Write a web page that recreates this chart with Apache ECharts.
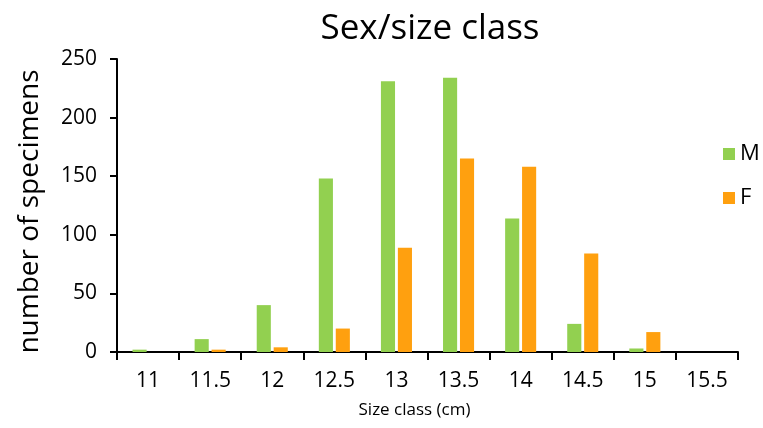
<!DOCTYPE html>
<html>
<head>
<meta charset="utf-8">
<script src="https://cdn.jsdelivr.net/npm/echarts@6/dist/echarts.min.js"></script>
<style>html,body{margin:0;padding:0;background:#fff}#c{width:763px;height:428px}</style>
</head>
<body>
<div id="c"></div>
<script>
var categories = ['11','11.5','12','12.5','13','13.5','14','14.5','15','15.5'];
var maleValues = [2, 11, 40, 148, 231, 234, 114, 24, 3, 0];
var femaleValues = [0, 2, 4, 20, 89, 165, 158, 84, 17, 0];
var yTicks = [0, 50, 100, 150, 200, 250];

var font = '"Open Sans", "Noto Sans", sans-serif';
var chart = echarts.init(document.getElementById('c'));
chart.setOption({
  animation: false,
  backgroundColor: '#fff',
  title: {
    text: 'Sex/size class',
    left: 425, top: 7, textAlign: 'center',
    textStyle: {fontFamily: font, fontSize: 35, fontWeight: 'normal', color: '#000'}
  },
  legend: {
    orient: 'vertical', left: 718, top: 138, itemGap: 22,
    itemWidth: 12, itemHeight: 12, icon: 'rect',
    textStyle: {fontFamily: font, fontSize: 22, color: '#000'},
    data: ['M','F']
  },
  grid: {left: 117, right: 25, top: 59, bottom: 76, containLabel: false},
  xAxis: {
    type: 'category', data: categories,
    name: 'Size class (cm)', nameLocation: 'middle', nameGap: 50,
    nameTextStyle: {fontFamily: font, fontSize: 17, color: '#000', padding: [0, 26, 0, 0]},
    axisLine: {lineStyle: {color: '#000', width: 2}},
    axisTick: {show: true, length: 8, lineStyle: {color: '#000', width: 2}},
    axisLabel: {fontFamily: font, fontSize: 21, color: '#000', margin: 19}
  },
  yAxis: {
    type: 'value', min: yTicks[0], max: yTicks[yTicks.length-1], interval: 50,
    name: 'number of specimens', nameLocation: 'middle', nameGap: 73,
    nameTextStyle: {fontFamily: font, fontSize: 28, color: '#000', padding: [0, 12, 0, 0]},
    axisLine: {show: true, lineStyle: {color: '#000', width: 2}},
    axisTick: {show: true, length: 7, lineStyle: {color: '#000', width: 2}},
    axisLabel: {fontFamily: font, fontSize: 21, color: '#000', margin: 20},
    splitLine: {show: false}
  },
  series: [
    {name: 'M', type: 'bar', data: maleValues, barGap: '20%', barCategoryGap: '50%',
     itemStyle: {color: '#92D050'}},
    {name: 'F', type: 'bar', data: femaleValues, barGap: '20%', barCategoryGap: '50%',
     itemStyle: {color: '#FFA00F'}}
  ]
});
</script>
</body>
</html>
